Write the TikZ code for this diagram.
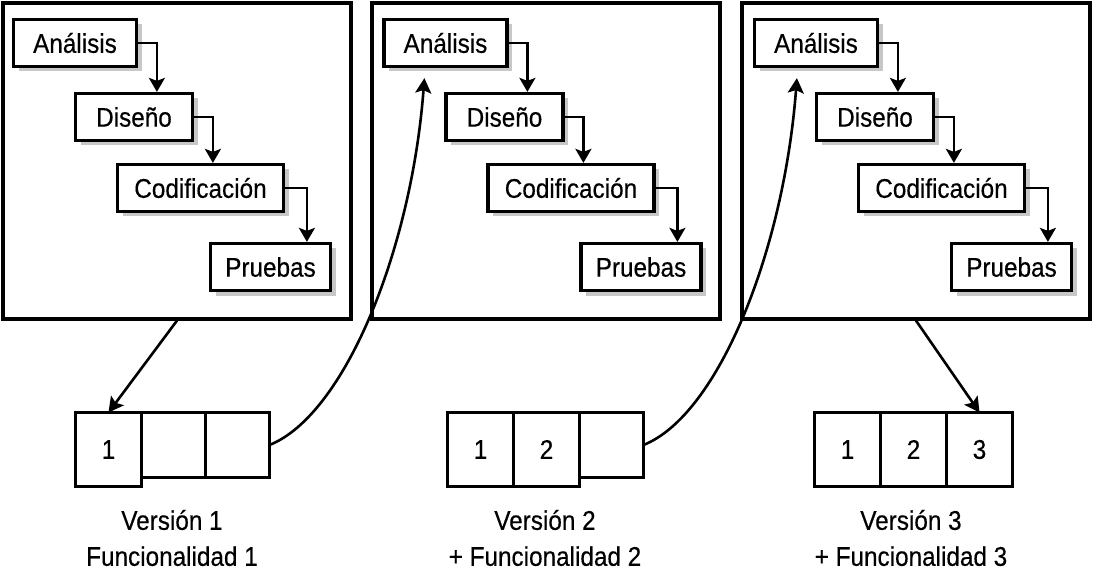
\documentclass[tikz,border=0pt]{standalone}
\usepackage{fontspec}
\setmainfont{Liberation Sans}[FakeStretch=0.9, FakeBold=0.4]
\usetikzlibrary{arrows.meta, shadows, calc}

\begin{document}
\begin{tikzpicture}[
    x=1pt, y=-1pt,
    font=\fontsize{27}{36}\selectfont,
    panel/.style={rectangle, draw=black, line width=3.2pt, minimum width=348, minimum height=316},
    box/.style={rectangle, draw=black, fill=white, line width=3.2pt, minimum width=#1, minimum height=47, inner sep=0pt, drop shadow={shadow xshift=5pt, shadow yshift=-5pt, fill=black!22, opacity=1}},
    cell/.style={rectangle, draw=black, line width=3.2pt, outer sep=0pt, inner sep=0pt, anchor=north west},
    fullcell/.style={cell, minimum width=66, minimum height=74},
    emptycell/.style={cell, minimum width=64, minimum height=65},
    vlabel/.style={align=center},
    flow/.style={-{Stealth[length=14pt, width=16pt, inset=3pt]}, line width=2.4pt, draw=black},
    link/.style={-{Stealth[length=15pt, width=16pt, inset=3pt]}, line width=2.6pt, draw=black}
]
\useasboundingbox (0,0) rectangle (1110,585);

% Panels
\node[panel] (panel1) at (177,161) {};
\node[panel] (panel2) at (546,161) {};
\node[panel] (panel3) at (916,161) {};

% Phases, version 1
\node[box=123] (ana1) at (75,43) {Análisis};
\node[box=117] (dis1) at (134,117) {Diseño};
\node[box=166] (cod1) at (200.5,188) {Codificación};
\node[box=120] (pru1) at (270.5,267) {Pruebas};
% Phases, version 2
\node[box=123] (ana2) at (445.5,43) {Análisis};
\node[box=117] (dis2) at (504.5,117) {Diseño};
\node[box=166] (cod2) at (571,188) {Codificación};
\node[box=120] (pru2) at (641,267) {Pruebas};
% Phases, version 3
\node[box=123] (ana3) at (816,43) {Análisis};
\node[box=117] (dis3) at (875,117) {Diseño};
\node[box=166] (cod3) at (941.5,188) {Codificación};
\node[box=120] (pru3) at (1011.5,267) {Pruebas};

% Waterfall arrows
\draw[flow] (ana1.east) -| ($(dis1.north west)+(83,0)$);
\draw[flow] (dis1.east) -| ($(cod1.north west)+(97,0)$);
\draw[flow] (cod1.east) -| ($(pru1.north west)+(98,0)$);
\draw[flow] (ana2.east) -| ($(dis2.north west)+(83,0)$);
\draw[flow] (dis2.east) -| ($(cod2.north west)+(97,0)$);
\draw[flow] (cod2.east) -| ($(pru2.north west)+(98,0)$);
\draw[flow] (ana3.east) -| ($(dis3.north west)+(83,0)$);
\draw[flow] (dis3.east) -| ($(cod3.north west)+(97,0)$);
\draw[flow] (cod3.east) -| ($(pru3.north west)+(98,0)$);

% Increments
\node[fullcell] (c11) at (75.5,412.5) {1};
\node[emptycell] (c12) at (c11.north east) {};
\node[emptycell] (c13) at (c12.north east) {};
\node[fullcell] (c21) at (447.5,412.5) {1};
\node[fullcell] (c22) at (c21.north east) {2};
\node[emptycell] (c23) at (c22.north east) {};
\node[fullcell] (c31) at (814.5,412.5) {1};
\node[fullcell] (c32) at (c31.north east) {2};
\node[fullcell] (c33) at (c32.north east) {3};

% Labels
\node[vlabel] (v1) at (172,538) {Versión 1\\Funcionalidad 1};
\node[vlabel] (v2) at (545,538) {Versión 2\\+ Funcionalidad 2};
\node[vlabel] (v3) at (911,538) {Versión 3\\+ Funcionalidad 3};

% Connectors
\draw[link] (panel1.south) -- (c11.north);
\draw[link] (c13.east) .. controls +(75,-30) and +(-13,172) .. ($(ana2.south west)+(42,10)$);
\draw[link] (c23.east) .. controls +(75,-30) and +(-13,172) .. ($(ana3.south west)+(44,10)$);
\draw[link] (panel3.south) -- (c33.north);
\end{tikzpicture}
\end{document}
